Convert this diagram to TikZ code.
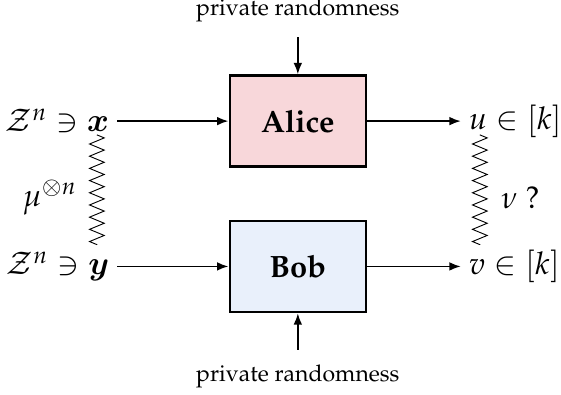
\documentclass[tikz,border=0pt]{standalone}
\usepackage{amsmath}
\usepackage[T1]{fontenc}
\usepackage{mathpazo}
\usetikzlibrary{decorations.pathmorphing,arrows.meta}
\DeclareMathAlphabet{\mathbxi}{OML}{cmm}{b}{it}
\definecolor{alicepink}{RGB}{248,215,218}
\definecolor{bobblue}{RGB}{233,240,251}
\begin{document}
\begin{tikzpicture}[x=1cm,y=1cm]
		\begin{scope}[scale=1]
		
		\tikzstyle{mybox}=[rectangle,
		draw=black,
		line width=1.1pt,
		inner sep=0pt,
		minimum width=2.08cm,
		minimum height=1.39cm,
		font=\fontsize{13.4}{16}\selectfont\bfseries
		]
		\tikzstyle{mylabel}=[font=\fontsize{13.6}{16}\selectfont]
		\tikzstyle{myarrow}=[-{Latex[length=5pt,width=3.8pt]},line width=0.8pt]
		\tikzstyle{mywave}=[decorate,
		decoration={zigzag,segment length=5.3pt,amplitude=3.2pt}
		]
		
		\useasboundingbox (0,0) rectangle (8.57,6.02);
		
		\coordinate (pa) at (4.55, 4.17);
		\coordinate (pb) at (4.55, 1.95);
		
		\coordinate (px) at (1.79, 4.17);
		\coordinate (py) at (1.79, 1.95);
		\coordinate (pu) at (7.04, 4.17);
		\coordinate (pv) at (7.04, 1.95);
		
		\coordinate (pr1) at (4.55, 5.86);
		\coordinate (pr2) at (4.55, 0.27);
		
		\coordinate (w1) at (1.48, 3.96);
		\coordinate (w2) at (1.48, 2.28);
		\coordinate (w3) at (7.33, 3.96);
		\coordinate (w4) at (7.33, 2.28);
		
		\node[mybox, fill=alicepink] (alice) at (pa) {Alice};
		\node[mybox, fill=bobblue] (bob) at (pb) {Bob};
		
		\node[mylabel, anchor=east] (x) at (px) {$\mathcal{Z}^n \ni \mathbxi{x}$};
		\node[mylabel, anchor=east] (y) at (py) {$\mathcal{Z}^n \ni \mathbxi{y}$};
		\node[mylabel, anchor=west] (u) at (pu) {$u \in [k]$};
		\node[mylabel, anchor=west] (v) at (pv) {$v \in [k]$};
		
		\node (rnda) at (pr1) {private randomness};
		\node (rndb) at (pr2) {private randomness};
		
		\node[mylabel] (mu) at (0.76, 3.0) {$\mu^{\otimes n}$};
		\node[mylabel] (nu) at (7.95, 3.0) {$\nu$ ?};
		
		\draw[myarrow] (x) -- (alice);
		\draw[myarrow] (y) -- (bob);
		\draw[myarrow] (alice) -- (u);
		\draw[myarrow] (bob) -- (v);
		\draw[myarrow, shorten <=3pt] (rnda) -- (alice);
		\draw[myarrow, shorten <=3pt] (rndb) -- (bob);
		
		\draw[mywave] (w1) -- (w2);
		\draw[mywave] (w3) -- (w4);
		
		\end{scope}
\end{tikzpicture}
\end{document}
